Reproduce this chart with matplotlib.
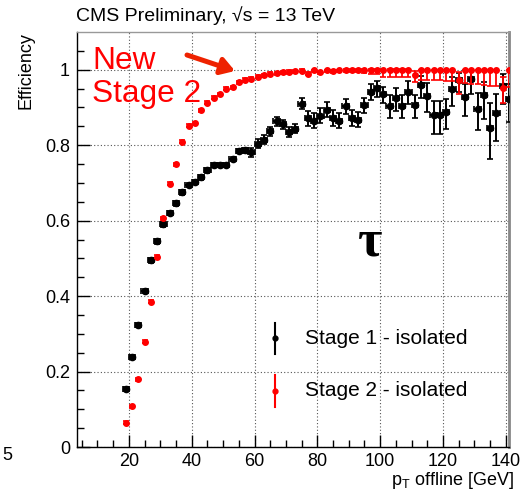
import matplotlib
matplotlib.use("Agg")
import matplotlib.pyplot as plt
import numpy as np

plt.rcParams['font.family'] = ['Liberation Sans', 'DejaVu Sans']
plt.rcParams['mathtext.fontset'] = 'custom'
plt.rcParams['mathtext.rm'] = 'Liberation Sans'
plt.rcParams['mathtext.it'] = 'Liberation Sans:italic'

# ---------------- data ----------------
pt = [19, 21, 23, 25, 27, 29, 31, 33, 35, 37, 39, 41, 43, 45, 47, 49, 51, 53, 55, 57,
      59, 61, 63, 65, 67, 69, 71, 73, 75, 77, 79, 81, 83, 85, 87, 89, 91, 93, 95, 97,
      99, 101, 103, 105, 107, 109, 111, 113, 115, 117, 119, 121, 123, 125, 127, 129,
      131, 133, 135, 137, 139, 141]

stage1_eff = [0.154, 0.239, 0.324, 0.414, 0.495, 0.545, 0.590, 0.620, 0.646, 0.675,
              0.694, 0.703, 0.715, 0.733, 0.747, 0.747, 0.747, 0.763, 0.784, 0.786,
              0.781, 0.804, 0.815, 0.837, 0.863, 0.855, 0.835, 0.844, 0.910, 0.871,
              0.865, 0.878, 0.894, 0.872, 0.865, 0.903, 0.872, 0.867, 0.906, 0.942,
              0.951, 0.935, 0.905, 0.924, 0.905, 0.941, 0.906, 0.959, 0.930, 0.879,
              0.879, 0.888, 0.950, 0.972, 0.928, 0.976, 0.897, 0.932, 0.845, 0.886,
              0.958, 0.922]
stage1_lo = [0.006] * 20 + [0.012] * 8 + [0.015] + [0.020] * 10 + \
            [0.022, 0.022, 0.022, 0.033, 0.033, 0.033, 0.033, 0.033, 0.035, 0.043,
             0.050, 0.050, 0.045, 0.045, 0.030, 0.050, 0.040, 0.058, 0.062, 0.082,
             0.076, 0.050, 0.060]
stage1_hi = [0.006] * 20 + [0.012] * 8 + [0.015] + [0.020] * 10 + \
            [0.020, 0.020, 0.020, 0.028, 0.028, 0.028, 0.028, 0.028, 0.025, 0.035,
             0.037, 0.037, 0.035, 0.030, 0.020, 0.035, 0.020, 0.040, 0.035, 0.066,
             0.050, 0.030, 0.040]

stage2_eff = [0.064, 0.108, 0.180, 0.279, 0.385, 0.504, 0.606, 0.698, 0.749, 0.809,
              0.851, 0.858, 0.892, 0.913, 0.926, 0.935, 0.949, 0.954, 0.967, 0.973,
              0.976, 0.982, 0.985, 0.990, 0.991, 0.993, 0.994, 0.996, 0.997, 0.990,
              0.998, 0.993, 0.998, 0.997, 0.998, 0.999, 0.999, 1.0, 1.0, 1.0,
              1.0, 1.0, 1.0, 1.0, 1.0, 1.0, 0.987, 1.0, 1.0, 1.0,
              1.0, 1.0, 1.0, 0.973, 1.0, 1.0, 1.0, 1.0, 1.0, 1.0,
              0.951, 1.0]
stage2_lo = [0.004] * 30 + [0.004, 0.004, 0.005, 0.005, 0.005, 0.006, 0.006, 0.007,
             0.008, 0.010, 0.012, 0.018, 0.018, 0.018, 0.018, 0.018, 0.019, 0.026,
             0.027, 0.028, 0.028, 0.029, 0.030, 0.037, 0.035, 0.037, 0.038, 0.040,
             0.042, 0.044, 0.040, 0.046]
stage2_hi = [0.004] * 30 + [0.002] * 16 + [0.010] + [0.0] * 6 + [0.020] + \
            [0.0] * 6 + [0.030, 0.0]

xticks = [20, 40, 60, 80, 100, 120, 140]
yticks = [0, 0.2, 0.4, 0.6, 0.8, 1.0]
ytick_labels = ['0', '0.2', '0.4', '0.6', '0.8', '1']
bin_half = [1.0] * len(pt)

# ---------------- figure ----------------
W, H = 522, 491
fig = plt.figure(figsize=(W / 100, H / 100), dpi=100)
L, R, B, T = 77, 509, 447, 32
ax = fig.add_axes([L / W, 1 - B / H, (R - L) / W, (B - T) / H])

ax.set_xlim(3.5, 141)
ax.set_ylim(0, 1.1)

ax.set_xticks(xticks)
ax.set_xticks(np.arange(5, 141, 5), minor=True)
ax.set_yticks(yticks)
ax.set_yticklabels(ytick_labels)
ax.set_yticks(np.arange(0, 1.1, 0.05), minor=True)
ax.tick_params(which='both', direction='in', labelsize=13, colors='black')
ax.tick_params(which='major', length=9, width=1)
ax.tick_params(which='minor', length=5, width=1)
ax.tick_params(axis='x', pad=4)
ax.tick_params(axis='y', pad=5)
ax.grid(True, which='major', linestyle=(0, (1, 2)), color='#555555', linewidth=0.8)
ax.set_axisbelow(True)

for s in ['left', 'bottom']:
    ax.spines[s].set_color('black')
    ax.spines[s].set_linewidth(1.0)
ax.spines['top'].set_color('#999999')
ax.spines['top'].set_linewidth(1.0)
ax.spines['right'].set_color('#888888')
ax.spines['right'].set_linewidth(2.0)

ax.errorbar(pt, stage1_eff, yerr=[stage1_lo, stage1_hi], xerr=bin_half,
            fmt='o', color='black', ecolor='black', ms=4.5, elinewidth=1.4,
            capsize=2, capthick=1.2, zorder=3)
ax.errorbar(pt, stage2_eff, yerr=[stage2_lo, stage2_hi],
            fmt='o', color='red', ecolor='red', ms=4.0, elinewidth=1.3,
            capsize=2, capthick=1.2, zorder=4)

ax.set_ylabel('Efficiency', fontsize=13, loc='top')
ax.yaxis.set_label_coords((34 - L) / (R - L), 1.0)
ax.set_xlabel(r'p$_{\mathrm{T}}$ offline [GeV]', fontsize=13, loc='right')
ax.xaxis.set_label_coords((514 - L) / (R - L), -(470 - B) / (B - T))

def fx(px):
    return px / W

def fy(py):
    return 1 - py / H

fig.text(fx(76), fy(16), 'CMS Preliminary, √s = 13 TeV', fontsize=14,
         ha='left', va='center')
fig.text(fx(2), fy(456), '5', fontsize=13, ha='left', va='center')

# legend (manual)
for yc, (y0, y1), col, lab in [(338, (323, 354), 'black', 'Stage 1 - isolated'),
                               (391, (375, 407), 'red', 'Stage 2 - isolated')]:
    fig.add_artist(plt.Line2D([fx(275), fx(275)], [fy(y0), fy(y1)], color=col,
                              lw=1.5, transform=fig.transFigure))
    fig.add_artist(plt.Line2D([fx(275)], [fy(yc)], marker='o', ms=3.5, color=col,
                              transform=fig.transFigure))
    fig.text(fx(305), fy(yc), lab, fontsize=15, ha='left', va='center')

# annotations
fig.text(fx(370), fy(242), 'τ', fontsize=38, fontweight='bold',
         family=['Liberation Serif', 'DejaVu Serif'], ha='center', va='center')
fig.text(fx(92), fy(102), 'New\nStage 2', fontsize=22.8, color='red', ha='left',
         va='baseline', linespacing=1.15)
ax.annotate('', xy=(fx(235), fy(71)), xytext=(fx(187), fy(55)),
            xycoords='figure fraction', textcoords='figure fraction',
            arrowprops=dict(arrowstyle='-|>,head_length=0.8,head_width=0.5',
                            color='#ee2200', lw=3.6, shrinkA=0, shrinkB=0))

fig.savefig('out.png', dpi=100)
